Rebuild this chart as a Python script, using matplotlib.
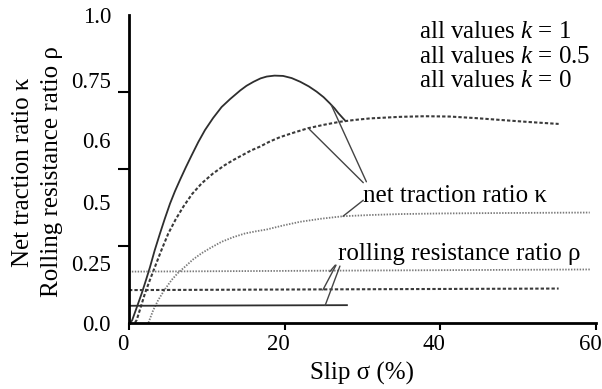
import matplotlib
matplotlib.use("Agg")
import matplotlib.pyplot as plt
from matplotlib.transforms import ScaledTranslation

plt.rcParams["font.family"] = ["Liberation Serif", "DejaVu Serif"]
plt.rcParams["mathtext.fontset"] = "custom"
plt.rcParams["mathtext.rm"] = "Liberation Serif"
plt.rcParams["mathtext.it"] = "Liberation Serif:italic"

FS_TICK = 16.5
FS = 18

# net traction ratio kappa vs slip, one curve per k
slip_k1 = [0.2, 0.42, 1.0, 1.63, 2.2, 2.70, 3.3, 3.98, 4.6, 5.27, 5.9, 6.55, 7.3, 8.05,
           8.9, 9.76, 10.8, 11.9, 13.0, 14.3, 15.1, 16.0, 16.9, 17.7, 18.7, 19.8, 20.9,
           22.0, 23.1, 24.1, 25.0, 25.8, 26.4, 26.9, 27.4, 27.8]
kappa_k1 = [0.0, 0.009, 0.05, 0.095, 0.14, 0.181, 0.235, 0.290, 0.338, 0.387, 0.427,
            0.464, 0.505, 0.544, 0.587, 0.626, 0.665, 0.701, 0.727, 0.755, 0.770, 0.783,
            0.794, 0.800, 0.803, 0.802, 0.795, 0.783, 0.768, 0.751, 0.733, 0.713, 0.697,
            0.681, 0.667, 0.656]

slip_k05 = [0.77, 0.99, 1.5, 2.06, 2.7, 3.34, 4.2, 5.05, 6.0, 6.98, 8.1, 9.34, 10.8,
            12.3, 13.5, 14.6, 15.7, 16.8, 18.1, 19.4, 21.2, 23.0, 25.0, 27.1, 29.0, 31.0,
            34.8, 38.0, 41.2, 44.5, 47.7, 51.5, 55.2]
kappa_k05 = [0.0, 0.009, 0.05, 0.096, 0.14, 0.182, 0.238, 0.290, 0.336, 0.377, 0.418,
             0.453, 0.485, 0.512, 0.530, 0.545, 0.560, 0.572, 0.589, 0.603, 0.618, 0.632,
             0.643, 0.653, 0.659, 0.664, 0.669, 0.671, 0.670, 0.665, 0.659, 0.652, 0.646]

slip_k0 = [2.5, 3.1, 3.76, 4.6, 5.48, 6.3, 7.2, 8.2, 9.34, 10.6, 11.9, 13.4, 14.9, 16.3,
           17.7, 19.8, 22.0, 24.7, 27.5, 31.0, 34.8, 40.0, 45.0, 52.0, 59.2]
kappa_k0 = [0.0, 0.04, 0.074, 0.108, 0.139, 0.162, 0.182, 0.205, 0.226, 0.245, 0.263,
            0.278, 0.290, 0.297, 0.303, 0.316, 0.328, 0.338, 0.346, 0.350, 0.353, 0.355,
            0.356, 0.357, 0.358]

# rolling resistance ratio rho vs slip
rho_slip_k1 = [0.0, 28.0]
rho_k1 = [0.055, 0.057]
rho_slip_k05 = [0.0, 55.2]
rho_k05 = [0.106, 0.111]
rho_slip_k0 = [0.0, 59.2]
rho_k0 = [0.166, 0.173]

x_ticks = [0, 20, 40, 60]
y_tick_marks = [0.0, 0.25, 0.5, 0.75, 1.0]
y_label_pos = [0.0, 0.193, 0.393, 0.594, 0.789, 1.0]
y_labels = ["0.0", "0.25", "0.5", "0.6", "0.75", "1.0"]

legend_lines = ["all values $k$ = 1", "all values $k$ = 0.5", "all values $k$ = 0"]

fig = plt.figure(figsize=(6.02, 3.89), dpi=100)
ax = fig.add_axes([129 / 602, 1 - 322.7 / 389, 467 / 602, 307.7 / 389])

dark = "#2e2e2e"
grey = "#7a7a7a"
solid = dict(color=dark, lw=1.3, ls="-")
dashed = dict(color="#3a3a3a", lw=1.5, ls=(0, (1.6, 1.0)))
dotted = dict(color=grey, lw=1.3, ls=(0, (0.8, 0.8)))

ax.plot(slip_k1, kappa_k1, **solid)
ax.plot(slip_k05, kappa_k05, **dashed)
ax.plot(slip_k0, kappa_k0, **dotted)
ax.plot(rho_slip_k1, rho_k1, **solid)
ax.plot(rho_slip_k05, rho_k05, **dashed)
ax.plot(rho_slip_k0, rho_k0, **dotted)

ax.set_xlim(0, 60)
ax.set_ylim(0, 1)
for s in ["top", "right"]:
    ax.spines[s].set_visible(False)
for s in ["left", "bottom"]:
    ax.spines[s].set_linewidth(2)
    ax.spines[s].set_color("black")

ax.set_xticks(x_ticks)
ax.set_xticklabels([str(v) for v in x_ticks], fontsize=FS_TICK)
ax.tick_params(axis="x", direction="out", length=5, width=1.5, pad=3)
shift = ScaledTranslation(-6 / 100, 0, fig.dpi_scale_trans)
for lab in ax.get_xticklabels():
    lab.set_transform(lab.get_transform() + shift)

ax.set_yticks(y_label_pos)
ax.set_yticklabels(y_labels, fontsize=FS_TICK)
ax.set_yticks(y_tick_marks, minor=True)
ax.tick_params(axis="y", which="major", length=0, pad=13)
ax.tick_params(axis="y", which="minor", direction="out", length=8, width=1.5)

# curve labels with leader lines
lead = dict(arrowstyle="-", color="#444444", lw=1.0, shrinkA=0, shrinkB=0)
ax.text(30.1, 0.393, "net traction ratio κ", fontsize=FS, va="baseline", ha="left")
ax.annotate("", xy=(26.0, 0.707), xytext=(30.5, 0.458), arrowprops=lead)
ax.annotate("", xy=(23.2, 0.628), xytext=(30.1, 0.455), arrowprops=lead)
ax.annotate("", xy=(27.5, 0.346), xytext=(30.1, 0.398), arrowprops=lead)

ax.text(26.9, 0.204, "rolling resistance ratio ρ", fontsize=FS, va="baseline", ha="left")
ax.annotate("", xy=(25.8, 0.166), xytext=(26.5, 0.187), arrowprops=lead)
ax.annotate("", xy=(24.9, 0.106), xytext=(26.6, 0.187), arrowprops=lead)
ax.annotate("", xy=(25.2, 0.056), xytext=(27.1, 0.184), arrowprops=lead)

for i, line in enumerate(legend_lines):
    ax.text(37.2, 0.924 - i * 0.079, line, fontsize=FS, va="baseline", ha="left")

fig.text(37.4 / 602, 1 - 172 / 389, "Net traction ratio κ\nRolling resistance ratio ρ",
         rotation=90, ha="center", va="center", multialignment="center",
         fontsize=FS, linespacing=1.4)
fig.text(362.5 / 602, 1 - 373 / 389, "Slip σ (%)", ha="center", va="center", fontsize=FS)

fig.savefig("out.png", dpi=100)
